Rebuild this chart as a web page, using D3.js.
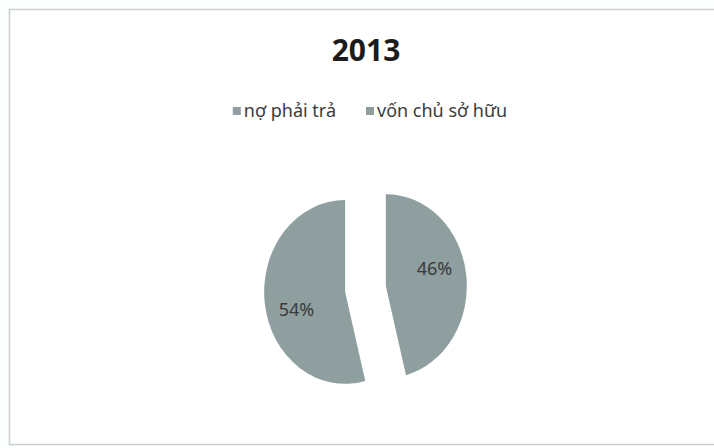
<!DOCTYPE html>
<html>
<head>
<meta charset="utf-8">
<script src="https://cdn.jsdelivr.net/npm/d3@7"></script>
<style>
  body { margin: 0; background: #fdfefe; }
  svg { display: block; font-family: "Noto Sans", "Open Sans", sans-serif; }
</style>
</head>
<body>
<svg id="chart" width="714" height="448"></svg>
<script>
// Chart data
var title = "2013";
var categories = ["nợ phải trả", "vốn chủ sở hữu"];
var values = [46, 54];

var svg = d3.select("#chart");
var sliceColor = "#8f9f9f";

// chart area border (right edge runs off the picture)
svg.append("rect")
  .attr("x", 9.5).attr("y", 9.5)
  .attr("width", 730).attr("height", 435)
  .attr("fill", "#ffffff")
  .attr("stroke", "#c9cfcf")
  .attr("stroke-width", 1.5);

// title
svg.append("text")
  .attr("x", 366).attr("y", 61)
  .attr("text-anchor", "middle")
  .attr("font-size", 30)
  .attr("font-weight", "bold")
  .attr("fill", "#1c1c1c")
  .text(title);

// legend, laid out from measured text widths and centred
var legend = svg.append("g").attr("transform", "translate(0,111)");
var items = legend.selectAll("g").data(categories).join("g");
items.append("rect")
  .attr("width", 8).attr("height", 8)
  .attr("y", -4)
  .attr("fill", sliceColor);
items.append("text")
  .attr("x", 11)
  .attr("dy", "0.35em")
  .attr("font-size", 18)
  .attr("fill", "#3c3c3c")
  .text(d => d);

var xPos = 0;
var offsets = [];
items.each(function() {
  offsets.push(xPos);
  xPos += 11 + this.querySelector("text").getComputedTextLength() + 30;
});
var legendWidth = xPos - 30;
var legendStart = 370 - legendWidth / 2;
items.attr("transform", (d, i) => `translate(${legendStart + offsets[i]},0)`);

// pie (the picture is slightly stretched vertically)
var cx = 365.5, cy = 289, radius = 81, yScale = 1.135, explode = 20.5;

var pie = d3.pie().sort(null).startAngle(0).endAngle(2 * Math.PI);
var arcs = pie(values);
var arc = d3.arc().innerRadius(0).outerRadius(radius);

function dir(a) { return [Math.sin(a), -Math.cos(a)]; }

var pieG = svg.append("g")
  .attr("transform", `translate(${cx},${cy}) scale(1,${yScale})`);

pieG.selectAll("path")
  .data(arcs)
  .join("path")
  .attr("transform", d => {
    var v = dir((d.startAngle + d.endAngle) / 2);
    return `translate(${v[0] * explode},${v[1] * explode})`;
  })
  .attr("d", arc)
  .attr("fill", sliceColor);

// data labels
var labelRadius = 51, labelTurn = -10 * Math.PI / 180;
svg.selectAll("text.lbl")
  .data(arcs)
  .join("text")
  .attr("class", "lbl")
  .attr("x", d => {
    var mid = (d.startAngle + d.endAngle) / 2;
    var v = dir(mid), w = dir(mid + labelTurn);
    return cx + v[0] * explode + w[0] * labelRadius;
  })
  .attr("y", d => {
    var mid = (d.startAngle + d.endAngle) / 2;
    var v = dir(mid), w = dir(mid + labelTurn);
    return cy + (v[1] * explode + w[1] * labelRadius) * yScale;
  })
  .attr("text-anchor", "middle")
  .attr("dy", "0.36em")
  .attr("font-size", 18)
  .attr("fill", "#3a3a3a")
  .text(d => d.data + "%");
</script>
</body>
</html>
